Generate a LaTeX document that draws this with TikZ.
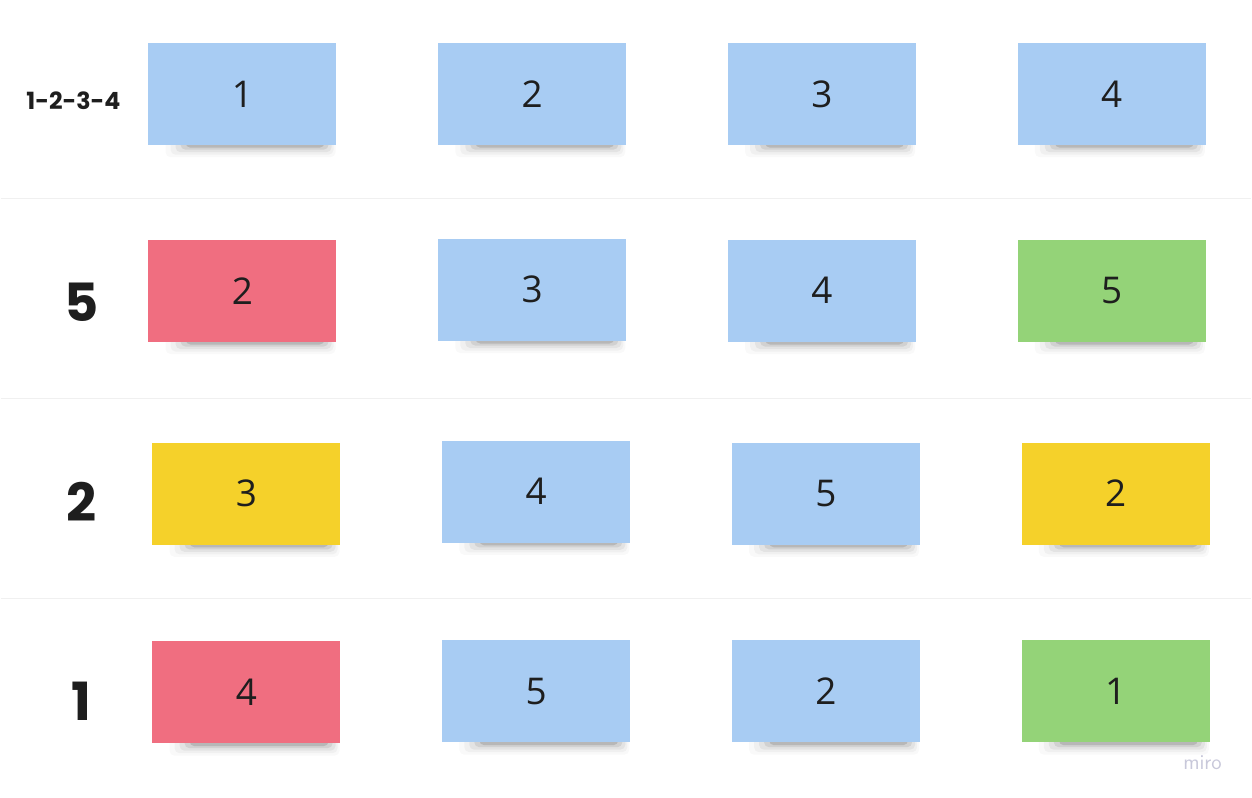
\documentclass[tikz,border=0pt]{standalone}
\usepackage{fontspec}
\setmainfont{Open Sans}
\newfontfamily\labelfont{Poppins}
\usetikzlibrary{backgrounds}

\definecolor{noteblue}{HTML}{A8CCF3}
\definecolor{notered}{HTML}{F06E80}
\definecolor{notegreen}{HTML}{94D378}
\definecolor{noteyellow}{HTML}{F5D12A}
\definecolor{sepgray}{HTML}{F0F0F0}
\definecolor{inkgray}{HTML}{1E1E1E}
\definecolor{mirogray}{HTML}{C8C8DA}

\begin{document}
\begin{tikzpicture}
[x=0.02cm, y=-0.02cm,
 sticky/.style={minimum width=3.76cm, minimum height=2.04cm, inner sep=0pt,
   text=inkgray, font=\fontsize{21}{21}\selectfont},
 shade/.style={fill=black, opacity=#1, rounded corners=.1cm},
 rowlabel/.style={text=inkgray, font=\labelfont\bfseries\fontsize{30}{30}\selectfont}]

% labels
\node[rowlabel, font=\labelfont\bfseries\fontsize{13.5}{13.5}\selectfont] (lab1) at (73,101) {1-2-3-4};
\node[rowlabel] (lab2) at (81,302) {5};
\node[rowlabel] (lab3) at (81,502) {2};
\node[rowlabel] (lab4) at (81,702) {1};

% first row
\node[sticky, fill=noteblue] (n11) at (242,94) {1};
\node[sticky, fill=noteblue] (n12) at (532,94) {2};
\node[sticky, fill=noteblue] (n13) at (822,94) {3};
\node[sticky, fill=noteblue] (n14) at (1112,94) {4};

% second row
\node[sticky, fill=notered] (n21) at (242,291) {2};
\node[sticky, fill=noteblue] (n22) at (532,290) {3};
\node[sticky, fill=noteblue] (n23) at (822,291) {4};
\node[sticky, fill=notegreen] (n24) at (1112,291) {5};

% third row
\node[sticky, fill=noteyellow] (n31) at (246,494) {3};
\node[sticky, fill=noteblue] (n32) at (536,492) {4};
\node[sticky, fill=noteblue] (n33) at (826,494) {5};
\node[sticky, fill=noteyellow] (n34) at (1116,494) {2};

% fourth row
\node[sticky, fill=notered] (n41) at (246,693) {4};
\node[sticky, fill=noteblue] (n42) at (536,692) {5};
\node[sticky, fill=noteblue] (n43) at (826,692) {2};
\node[sticky, fill=notegreen] (n44) at (1116,692) {1};

\node[text=mirogray, font=\sffamily\fontsize{12}{12}\selectfont] (miro) at (1203,763) {miro};

\begin{scope}[on background layer]
\fill[white] (0,0) rectangle (1252,798);
% row separators
\foreach \y in {199,399,599}
  \draw[sepgray, line width=0.6pt] (0,\y) -- (1252,\y);
% soft shadows under the notes
\foreach \n in {n11,n12,n13,n14,n21,n22,n23,n24,n31,n32,n33,n34,n41,n42,n43,n44} {
  \fill[shade=.025] ([xshift=.35cm, yshift=.2cm]\n.south west) rectangle ([xshift=-.02cm, yshift=-.24cm]\n.south east);
  \fill[shade=.035] ([xshift=.45cm, yshift=.2cm]\n.south west) rectangle ([xshift=-.06cm, yshift=-.19cm]\n.south east);
  \fill[shade=.05] ([xshift=.55cm, yshift=.2cm]\n.south west) rectangle ([xshift=-.1cm, yshift=-.14cm]\n.south east);
  \fill[shade=.08] ([xshift=.65cm, yshift=.2cm]\n.south west) rectangle ([xshift=-.16cm, yshift=-.09cm]\n.south east);
  \fill[shade=.12] ([xshift=.75cm, yshift=.2cm]\n.south west) rectangle ([xshift=-.24cm, yshift=-.05cm]\n.south east);
}
\end{scope}

\useasboundingbox (0,0) rectangle (1252,798);

\end{tikzpicture}
\end{document}
